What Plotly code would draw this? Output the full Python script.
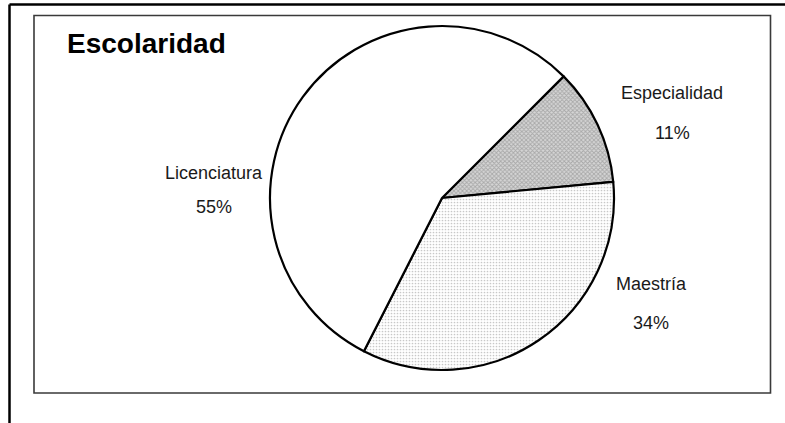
import plotly.graph_objects as go

# Data
categories = ["Especialidad", "Maestría", "Licenciatura"]
values = [11, 34, 55]

W, H = 785, 423

def px(x):
    return x / W

def py(y):
    return 1 - y / H

cx, cy, r = 442, 198, 172

fig = go.Figure()
fig.add_trace(go.Pie(
    labels=categories,
    values=values,
    sort=False,
    direction="clockwise",
    rotation=45,
    textinfo="none",
    hoverinfo="label+percent",
    marker=dict(
        colors=["#c4c4c4", "#ffffff", "#ffffff"],
        line=dict(color="black", width=2.2),
        pattern=dict(
            shape=["x", ".", ""],
            fgcolor=["#a8a8a8", "#c8c8c8", "#ffffff"],
            bgcolor=["#d6d6d6", "#ffffff", "#ffffff"],
            size=[3, 3, 8],
            solidity=[0.5, 0.25, 0.1],
        ),
    ),
    domain=dict(x=[px(cx - r), px(cx + r)], y=[py(cy + r), py(cy - r)]),
    showlegend=False,
))

label_font = dict(family="Liberation Sans Narrow, Arial Narrow, Liberation Sans, Arial, sans-serif",
                  size=18, color="#1a1a1a")

# label positions (px): (x center, y of name, y of percent)
label_pos = {
    "Especialidad": (672, 93, 133),
    "Maestría": (651, 284, 323),
    "Licenciatura": (214, 173, 207),
}
total = sum(values)
annotations = []
for cat, val in zip(categories, values):
    x, y1, y2 = label_pos[cat]
    annotations.append(dict(x=px(x), y=py(y1), xref="paper", yref="paper", text=cat,
                            showarrow=False, xanchor="center", yanchor="middle", font=label_font))
    annotations.append(dict(x=px(x), y=py(y2), xref="paper", yref="paper",
                            text=f"{round(100 * val / total)}%",
                            showarrow=False, xanchor="center", yanchor="middle", font=label_font))

annotations.append(dict(x=px(65), y=py(43), xref="paper", yref="paper", text="<b>Escolaridad</b>",
                        showarrow=False, xanchor="left", yanchor="middle",
                        font=dict(family="Liberation Sans, Arial, sans-serif", size=28, color="black")))

shapes = [
    # outer frame (cut by image edges)
    dict(type="line", xref="paper", yref="paper", x0=px(9.5), x1=px(800), y0=py(4.5), y1=py(4.5),
         line=dict(color="black", width=2.5)),
    dict(type="line", xref="paper", yref="paper", x0=px(9.5), x1=px(9.5), y0=py(4.5), y1=py(440),
         line=dict(color="black", width=2.5)),
    # inner plot box
    dict(type="rect", xref="paper", yref="paper", x0=px(34), x1=px(770.5), y0=py(393), y1=py(15.5),
         line=dict(color="#3a3a3a", width=1.6), layer="below"),
]

fig.update_layout(
    width=W, height=H,
    margin=dict(l=0, r=0, t=0, b=0),
    paper_bgcolor="white",
    plot_bgcolor="white",
    annotations=annotations,
    shapes=shapes,
)

fig.write_html("out.html", config={"displayModeBar": False},
               post_script="document.body.style.margin='0';document.body.style.padding='0';")
